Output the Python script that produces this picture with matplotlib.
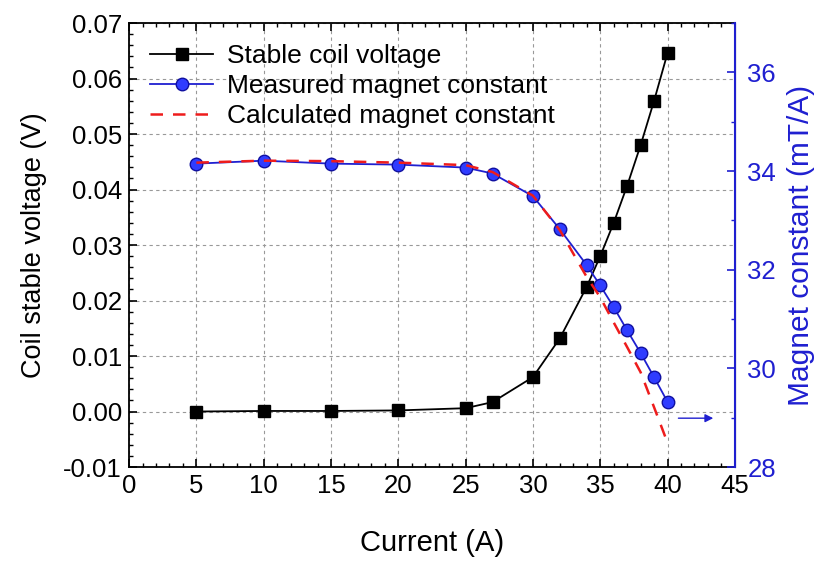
import numpy as np
import matplotlib.pyplot as plt
from matplotlib.ticker import MultipleLocator

plt.rcParams['font.family'] = ['Liberation Sans', 'DejaVu Sans']

# Data
current = [5, 10, 15, 20, 25, 27, 30, 32, 34, 35, 36, 37, 38, 39, 40]
voltage = [0.0, 0.0001, 0.0001, 0.0002, 0.0006, 0.0017, 0.0062, 0.0132,
           0.0225, 0.0280, 0.0340, 0.0407, 0.0480, 0.0560, 0.0646]
measured_k = [34.15, 34.21, 34.15, 34.13, 34.07, 33.95, 33.49, 32.82,
              32.09, 31.68, 31.24, 30.77, 30.31, 29.82, 29.32]
calc_k = [34.17, 34.21, 34.20, 34.17, 34.12, 33.98, 33.50, 32.80,
          31.85, 31.44, 30.93, 30.43, 29.92, 29.21, 28.49]

BLUE = '#1f1fd0'

fig, ax1 = plt.subplots(figsize=(8.22, 5.62), dpi=100)
fig.subplots_adjust(left=0.157, right=0.894, top=0.959, bottom=0.169)

ax2 = ax1.twinx()

l1, = ax1.plot(current, voltage, color='black', marker='s', markersize=8,
               linewidth=1.3, label='Stable coil voltage')
l2, = ax2.plot(current, measured_k, color=BLUE, marker='o', markersize=9,
               markerfacecolor='#2f3cff', markeredgecolor='#1010a0',
               linewidth=1.3, label='Measured magnet constant')
l3, = ax2.plot(current, calc_k, color='#ee1c1c', linestyle=(0, (5, 4)),
               linewidth=1.8, label='Calculated magnet constant')

# arrow pointing to the right axis
ax2.annotate('', xy=(43.6, 28.99), xytext=(40.6, 28.99),
             arrowprops=dict(arrowstyle='-|>', color=BLUE, lw=1.0,
                             mutation_scale=12))

ax1.set_xlim(0, 45)
ax1.set_ylim(-0.01, 0.07)
ax2.set_ylim(28, 37)

ax1.xaxis.set_major_locator(MultipleLocator(5))
ax1.xaxis.set_minor_locator(MultipleLocator(1))
ax1.yaxis.set_major_locator(MultipleLocator(0.01))
ax1.yaxis.set_minor_locator(MultipleLocator(0.002))
ax1.yaxis.set_major_formatter(plt.FuncFormatter(lambda v, p: f'{v:.2f}'))
ax2.yaxis.set_major_locator(MultipleLocator(2))
ax2.yaxis.set_minor_locator(MultipleLocator(1))

ax1.tick_params(which='both', direction='in', top=True, labelsize=18.5)
ax1.tick_params(which='major', length=6, width=1.2, pad=5)
ax1.tick_params(which='minor', length=3, width=1.0)
ax2.tick_params(which='both', direction='in', colors=BLUE, labelsize=18.5)
ax2.tick_params(which='major', length=6, width=1.2, pad=9)
ax2.tick_params(which='minor', length=3, width=1.0)

ax1.grid(True, which='major', linestyle=(0, (3, 3)), color='#999999', linewidth=0.8)

for s in ['left', 'bottom', 'top']:
    ax1.spines[s].set_linewidth(1.3)
ax2.spines['right'].set_color(BLUE)
ax2.spines['right'].set_linewidth(1.5)
for s in ['left', 'bottom', 'top']:
    ax2.spines[s].set_visible(False)

ax1.set_xlabel('Current (A)', fontsize=21, labelpad=22)
ax1.set_ylabel('Coil stable voltage (V)', fontsize=19.5, labelpad=12)
ax2.set_ylabel('Magnet constant (mT/A)', fontsize=21.5, color=BLUE, labelpad=8)

ax1.legend([l1, l2, l3], [l.get_label() for l in (l1, l2, l3)],
           loc='upper left', frameon=False, fontsize=19,
           handlelength=2.4, handletextpad=0.5, borderaxespad=0.4,
           labelspacing=0.22, bbox_to_anchor=(0.0, 1.0))

fig.savefig('out.png', dpi=100)
